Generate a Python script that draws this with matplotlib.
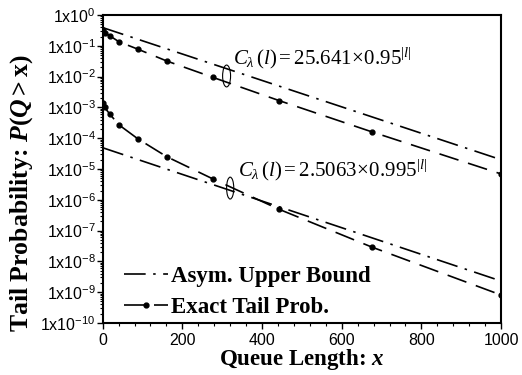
import matplotlib
matplotlib.use("Agg")
import matplotlib.pyplot as plt
from matplotlib.patches import Ellipse
from matplotlib.ticker import FixedLocator, LogLocator, NullFormatter, MultipleLocator

# ---- data ----
x_exact = [0, 5, 18, 41, 88, 161, 276, 443, 676, 1000]
p_exact_a = [0.33, 0.27, 0.21, 0.135, 0.078, 0.032, 0.0095, 0.00166, 1.6e-4, 6.9e-6]
p_exact_b = [1.4e-3, 1.0e-3, 6.0e-4, 2.7e-4, 9.6e-5, 2.5e-5, 4.8e-6, 4.9e-7, 2.9e-8, 8.1e-10]
x_bound = [0, 1000]
p_bound_a = [0.39, 2.0e-5]
p_bound_b = [4.9e-5, 2.3e-9]
y_tick_exps = list(range(0, -11, -1))
x_ticks = [0, 200, 400, 600, 800, 1000]

plt.rcParams['mathtext.fontset'] = 'custom'
plt.rcParams['mathtext.rm'] = 'Liberation Serif'
plt.rcParams['mathtext.it'] = 'Liberation Serif:italic'
plt.rcParams['mathtext.bf'] = 'Liberation Serif:bold'
plt.rcParams['mathtext.bfit'] = 'Liberation Serif:italic:bold'
plt.rcParams['mathtext.sf'] = 'Liberation Sans'

fig = plt.figure(figsize=(5.22, 3.75), dpi=100)
ax = fig.add_axes([0.1967, 0.1387, 0.7633, 0.8213])

dash_exact = (0, (12, 6))
dash_bound = (0, (13, 4.5, 1.5, 4.5))
lw = 1.2

ax.plot(x_bound, p_bound_a, color='black', lw=lw, linestyle=dash_bound, label='Asym. Upper Bound')
ax.plot(x_exact, p_exact_a, color='black', lw=lw, linestyle=dash_exact, marker='o', markersize=3.5,
        label='Exact Tail Prob.')
ax.plot(x_bound, p_bound_b, color='black', lw=lw, linestyle=dash_bound)
ax.plot(x_exact, p_exact_b, color='black', lw=lw, linestyle=dash_exact, marker='o', markersize=3.5)

ax.set_yscale('log')
ax.set_xlim(0, 1000)
ax.set_ylim(1e-10, 1)

ax.yaxis.set_major_locator(FixedLocator([10.0 ** e for e in y_tick_exps]))
ax.set_yticklabels([r'$\mathsf{1x10^{%d}}$' % e for e in y_tick_exps], fontsize=11.5)
ax.yaxis.set_minor_locator(LogLocator(base=10, subs=range(2, 10), numticks=20))
ax.yaxis.set_minor_formatter(NullFormatter())

ax.xaxis.set_major_locator(FixedLocator(x_ticks))
ax.set_xticklabels([str(t) for t in x_ticks], fontsize=11.5, family='Liberation Sans')
ax.xaxis.set_minor_locator(MultipleLocator(40))

ax.tick_params(which='major', direction='out', length=4, width=1)
ax.tick_params(which='minor', direction='out', length=2, width=0.8)
ax.tick_params(axis='y', pad=1)
for s in ax.spines.values():
    s.set_linewidth(1.5)

ax.set_xlabel(r'Queue Length: $\mathbfit{x}$', fontsize=16.5, fontweight='bold',
              family='Liberation Serif', labelpad=-1)
ax.set_ylabel(r'Tail Probability: $\mathbfit{P}\mathbf{(}\mathbfit{Q}\mathbf{>x)}$', fontsize=18.5,
              fontweight='bold', family='Liberation Serif')
ax.yaxis.set_label_coords(-0.17, 0.42)

ax.add_patch(Ellipse((0.311, 0.802), 0.020, 0.071, transform=ax.transAxes,
                     fill=False, lw=0.8, color='black'))
ax.add_patch(Ellipse((0.320, 0.438), 0.018, 0.071, transform=ax.transAxes,
                     fill=False, lw=0.8, color='black'))

ax.text(0.327, 0.86, r'$C_{\lambda}\,(l) = 25.641\!\times\!0.95^{|l|}$', transform=ax.transAxes,
        fontsize=15, va='center', ha='left')
ax.text(0.34, 0.497, r'$C_{\lambda}\,(l) = 2.5063\!\times\!0.995^{|l|}$', transform=ax.transAxes,
        fontsize=15, va='center', ha='left')

leg = ax.legend(loc='lower left', bbox_to_anchor=(0.025, -0.02), frameon=False,
                prop={'family': 'Liberation Serif', 'weight': 'bold', 'size': 16.5},
                handlelength=1.9, handletextpad=0.15, labelspacing=0.4, borderaxespad=0.1)

fig.savefig('out.png', dpi=100)
